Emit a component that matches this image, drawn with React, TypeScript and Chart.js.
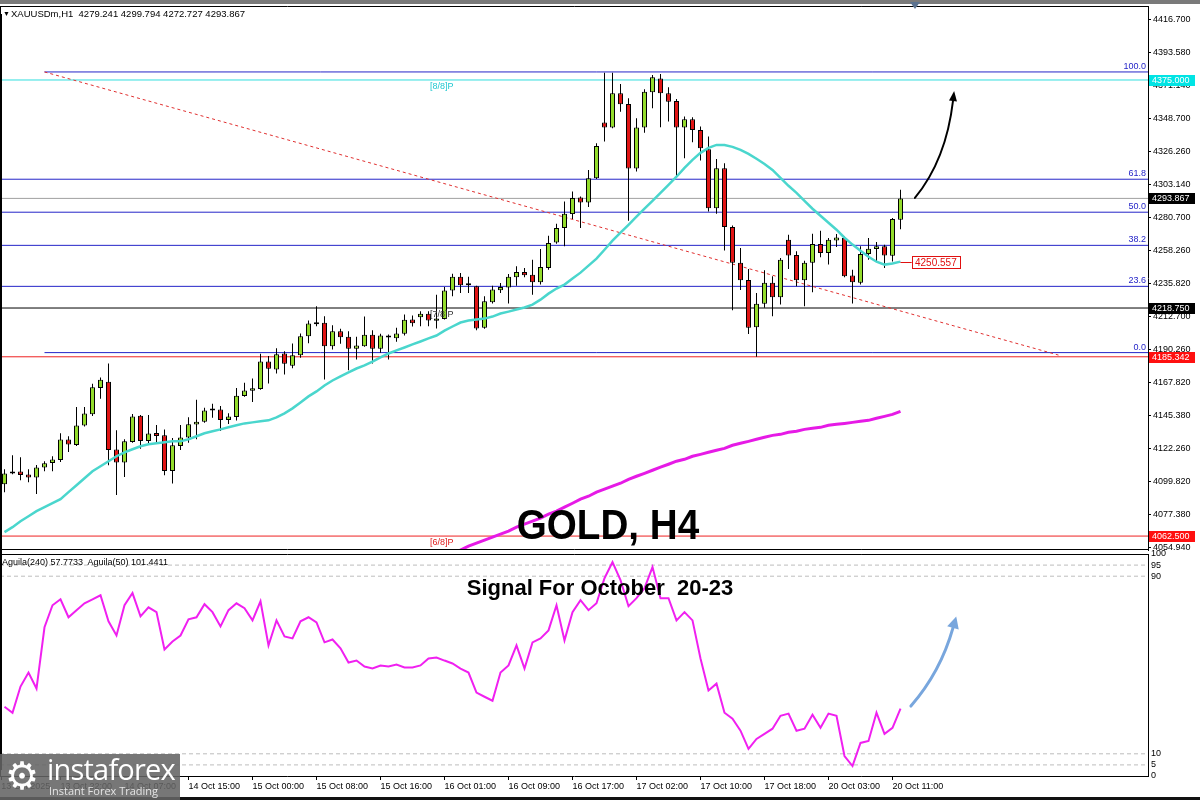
import React, { useEffect, useRef } from "react";
import { Chart, registerables } from "chart.js";

Chart.register(...registerables);
Chart.defaults.font.family = "'Liberation Sans', Arial, sans-serif";

// ---------------- data (H1 candles, XAUUSD) ----------------
const opens = [4098.0,4105.3,4106.7,4104.7,4102.6,4109.4,4112.6,4114.6,4128.6,4124.9,4138.2,4145.9,4163.9,4168.3,4121.8,4112.9,4126.9,4145.0,4127.6,4133.1,4131.5,4107.1,4124.2,4130.0,4138.9,4140.9,4148.6,4149.3,4142.0,4144.1,4158.4,4162.1,4163.2,4182.1,4176.7,4187.6,4179.2,4186.4,4199.4,4208.1,4208.6,4192.6,4202.9,4199.0,4190.8,4192.6,4200.4,4190.8,4199.9,4198.1,4201.1,4210.9,4212.4,4214.9,4210.0,4211.3,4230.7,4240.1,4234.3,4233.6,4205.2,4222.7,4230.9,4232.9,4239.8,4243.5,4241.6,4236.4,4246.2,4263.7,4273.6,4283.1,4294.5,4291.1,4307.7,4345.8,4342.4,4365.9,4358.6,4314.3,4342.4,4366.6,4376.1,4365.9,4360.6,4342.4,4348.1,4340.8,4327.6,4287.2,4314.6,4274.3,4249.7,4238.0,4205.6,4221.6,4236.0,4226.1,4265.6,4255.1,4237.7,4249.7,4262.6,4256.5,4265.1,4266.7,4241.0,4236.0,4255.8,4259.2,4261.0,4254.6,4279.241];
const highs = [4108.3,4117.9,4116.5,4108.3,4111.2,4113.8,4117.2,4132.9,4130.9,4150.9,4150.9,4166.9,4171.2,4180.8,4135.0,4128.8,4146.1,4145.5,4145.4,4138.6,4135.6,4129.7,4138.6,4143.9,4155.9,4150.5,4153.2,4151.6,4146.6,4163.9,4167.6,4170.5,4187.4,4185.8,4191.2,4189.2,4194.4,4201.3,4210.2,4219.9,4213.1,4207.0,4204.5,4202.9,4199.0,4212.9,4203.5,4201.1,4200.6,4205.2,4214.3,4213.6,4216.5,4216.5,4227.9,4233.2,4242.3,4242.8,4240.1,4234.1,4226.8,4234.1,4235.9,4242.1,4247.3,4246.2,4251.9,4259.2,4268.3,4276.5,4291.8,4298.6,4295.2,4313.4,4331.7,4380.0,4380.0,4372.3,4362.5,4348.8,4368.6,4378.4,4379.1,4370.0,4362.0,4349.9,4349.5,4343.1,4336.2,4320.8,4318.0,4275.3,4259.9,4245.5,4229.1,4244.6,4240.5,4253.1,4269.0,4257.6,4251.2,4269.7,4271.7,4266.7,4269.5,4267.8,4245.0,4261.0,4266.7,4264.0,4262.1,4280.4,4299.794];
const lows = [4092.5,4104.9,4100.8,4099.4,4091.4,4106.9,4106.9,4113.3,4120.1,4124.2,4137.5,4144.7,4156.6,4111.0,4090.7,4103.0,4126.5,4122.4,4125.9,4126.5,4104.2,4098.5,4121.5,4126.5,4128.8,4140.2,4143.6,4134.5,4139.3,4141.6,4157.9,4154.3,4162.8,4167.1,4173.9,4173.2,4177.5,4184.7,4194.7,4206.3,4169.8,4190.3,4194.2,4176.2,4183.5,4192.2,4180.8,4188.1,4183.5,4195.6,4199.9,4206.1,4206.3,4206.3,4204.7,4210.9,4226.8,4229.1,4229.1,4203.5,4204.5,4221.8,4229.1,4221.8,4234.1,4239.8,4227.9,4234.8,4245.0,4262.8,4261.0,4279.7,4273.6,4287.9,4307.1,4332.8,4342.0,4353.3,4278.6,4312.3,4338.9,4355.6,4342.6,4346.5,4308.9,4321.4,4332.4,4319.8,4284.9,4283.3,4258.2,4217.2,4231.1,4200.9,4185.3,4218.9,4213.1,4221.1,4245.5,4233.6,4219.9,4229.5,4253.5,4248.5,4260.6,4239.8,4221.8,4234.8,4251.9,4250.7,4246.2,4250.7,4272.727];
const closes = [4105.3,4106.7,4104.4,4102.6,4109.4,4112.4,4114.9,4128.6,4125.2,4138.2,4146.4,4164.4,4169.6,4121.5,4112.9,4127.4,4144.5,4127.6,4132.7,4131.1,4107.1,4124.7,4130.0,4139.1,4140.9,4148.6,4148.9,4142.0,4144.5,4158.7,4162.3,4163.7,4182.1,4177.1,4187.1,4180.6,4186.4,4199.4,4208.1,4207.6,4192.6,4202.9,4198.8,4190.8,4193.1,4200.4,4190.8,4199.9,4198.5,4201.3,4210.7,4208.3,4214.9,4210.2,4211.5,4230.7,4240.1,4234.3,4234.5,4204.7,4223.4,4231.4,4233.2,4240.1,4243.5,4241.2,4236.4,4246.9,4263.3,4273.6,4283.3,4294.1,4291.1,4307.7,4329.8,4342.4,4365.9,4358.4,4314.3,4342.4,4367.0,4376.8,4365.9,4360.1,4342.4,4348.1,4340.8,4328.3,4287.2,4314.6,4274.3,4249.7,4237.7,4205.2,4221.6,4236.0,4226.1,4251.9,4254.8,4237.7,4249.7,4262.6,4256.5,4265.6,4267.1,4240.5,4236.4,4255.8,4259.4,4261.0,4254.8,4279.7,4293.867];

// fast moving average (turquoise)
const fastMa = [4065.2,4068.6,4072.7,4076.1,4079.6,4082.3,4085.0,4087.8,4092.6,4097.3,4102.1,4106.9,4110.3,4113.8,4117.2,4119.9,4122.0,4124.0,4125.4,4126.1,4126.7,4127.4,4127.4,4128.8,4130.9,4132.9,4134.3,4135.6,4137.0,4138.4,4139.7,4140.4,4141.1,4141.8,4143.8,4146.6,4150.0,4154.1,4158.2,4161.6,4165.7,4169.1,4171.9,4174.6,4177.3,4179.4,4182.1,4184.9,4187.6,4189.7,4191.7,4193.8,4195.8,4197.9,4199.9,4203.3,4206.1,4208.8,4210.2,4210.9,4211.5,4212.9,4215.0,4216.3,4217.7,4219.1,4221.1,4224.5,4228.6,4232.1,4234.8,4238.9,4243.0,4247.8,4252.6,4258.7,4264.9,4270.4,4275.8,4281.3,4286.8,4292.2,4297.7,4303.2,4308.7,4314.8,4320.3,4325.1,4328.5,4330.5,4330.5,4329.2,4327.1,4324.4,4321.0,4317.5,4313.4,4308.0,4302.5,4297.7,4292.2,4286.8,4282.0,4277.2,4272.4,4266.9,4262.2,4258.0,4253.9,4250.5,4248.5,4249.2,4250.557];

// slow moving average (magenta), visible from candle 56
const slowMaStart = 56;
const slowMa = [4049.5,4052.9,4055.6,4057.7,4059.7,4061.8,4063.8,4065.9,4068.6,4070.7,4072.7,4074.8,4077.5,4079.6,4082.3,4085.0,4087.8,4089.8,4092.6,4094.6,4096.7,4098.7,4101.4,4103.5,4105.5,4107.6,4109.7,4111.7,4113.8,4115.1,4117.2,4118.5,4119.9,4121.3,4122.6,4124.7,4126.1,4127.4,4128.8,4130.2,4131.5,4132.2,4133.6,4134.3,4135.6,4136.3,4137.0,4138.4,4139.1,4139.7,4140.4,4141.1,4141.8,4143.2,4144.5,4145.9,4147.9];

// Aguila oscillator (lower panel)
const aguila = [31.2,28.5,40.3,46.6,39.4,67.0,76.9,79.6,71.5,74.7,77.8,79.6,81.4,69.7,63.3,76.9,82.4,71.9,76.0,73.8,57.0,60.6,63.3,70.6,71.5,77.4,73.8,67.4,74.7,77.8,75.6,70.1,78.7,58.8,70.1,62.9,62.0,69.7,71.5,69.2,60.2,61.5,57.5,51.1,52.0,49.3,48.4,49.8,49.3,50.2,48.9,48.9,49.8,52.9,53.4,52.0,50.7,48.4,46.6,37.6,35.7,33.9,46.6,49.8,58.8,48.4,60.2,62.0,65.6,76.9,61.1,73.8,79.2,74.7,77.8,89.1,96.4,88.2,76.5,80.1,84.6,94.1,80.1,80.1,70.1,73.8,70.1,52.9,38.5,41.6,28.5,25.8,20.4,12.2,16.7,19.0,21.3,27.1,28.1,20.4,21.3,27.6,21.7,28.1,27.1,9.0,4.5,14.9,15.8,28.5,19.0,21.7,30.3];
const aguilaLevels = [95, 90, 10, 5];
const aguilaTicks = [0, 5, 10, 90, 95, 100];

// price axis ticks
const priceTicks = [4416.7,4393.58,4371.14,4348.7,4326.26,4303.14,4280.7,4258.26,4235.82,4212.7,4190.26,4167.82,4145.38,4122.26,4099.82,4077.38,4054.94];

// Fibonacci retracement
const fibLevels = ["100.0", "61.8", "50.0", "38.2", "23.6", "0.0"];
const fibPrices = [4380.5, 4307.0, 4284.4, 4261.7, 4233.6, 4188.2];
const fibStartIndex = [5, null, null, null, null, 5];

// Murray math levels
const murrayLabels = ["[8/8]P", "[7/8]P", "[6/8]P"];
const murrayPrices = [4375.0, 4218.75, 4062.5];

// other levels
const bidPrice = 4293.867;
const supportPrice = 4185.342;
const trendFrom = { x: 5, y: 4380.5 };
const trendTo = { x: 131.75, y: 4186.5 };

// price tags on axis
const tagPrices = [4375.0, 4293.867, 4218.75, 4185.342, 4062.5];
const tagColors = ["#00e4e4", "#000000", "#000000", "#ff1010", "#ff1010"];

// time axis
const timeTickIndex = [-0.4, 7, 15, 23, 31, 39, 47, 55, 63, 71, 79, 87, 95, 103, 111];
const timeLabels = ["13 Oct 2025", "13 Oct 22:00", "14 Oct 07:00", "14 Oct 15:00", "15 Oct 00:00", "15 Oct 08:00", "15 Oct 16:00", "16 Oct 01:00", "16 Oct 09:00", "16 Oct 17:00", "17 Oct 02:00", "17 Oct 10:00", "17 Oct 18:00", "20 Oct 03:00", "20 Oct 11:00"];

// arrows (index, value)
const blackArrow = [[113.8, 4294.2], [117.7, 4320.2], [118.56, 4360.6]];
const blueArrow = [[113.3, 31.5], [117.0, 46.8], [118.56, 66.7]];

// ---------------- styling ----------------
const X_MIN = -0.5625;
const X_MAX = 142.9375;
const GREEN = "#93dc2c";
const RED = "#e01414";
const FIB_BLUE = "#2424c8";

function drawCurvedArrow(ctx: any, pts: any[], color: string, width: number, headLen: number, headW: number) {
  const [p0, c, p1] = pts;
  ctx.save();
  ctx.strokeStyle = color;
  ctx.fillStyle = color;
  ctx.lineWidth = width;
  ctx.lineCap = "round";
  ctx.beginPath();
  ctx.moveTo(p0.x, p0.y);
  ctx.quadraticCurveTo(c.x, c.y, p1.x, p1.y);
  ctx.stroke();
  const ang = Math.atan2(p1.y - c.y, p1.x - c.x);
  const tx = p1.x + Math.cos(ang) * headLen;
  const ty = p1.y + Math.sin(ang) * headLen;
  const px = -Math.sin(ang) * headW;
  const py = Math.cos(ang) * headW;
  ctx.beginPath();
  ctx.moveTo(tx, ty);
  ctx.lineTo(p1.x + px, p1.y + py);
  ctx.lineTo(p1.x - px, p1.y - py);
  ctx.closePath();
  ctx.fill();
  ctx.restore();
}

const mainOverlay = {
  id: "mainOverlay",
  afterDraw(chart: any) {
    const { ctx, chartArea: a } = chart;
    const x = chart.scales.x;
    const y = chart.scales.y;
    ctx.save();
    // frame
    ctx.strokeStyle = "#000";
    ctx.lineWidth = 1;
    ctx.beginPath();
    ctx.moveTo(a.left + 0.5, a.top + 0.5);
    ctx.lineTo(a.right, a.top + 0.5);
    ctx.moveTo(a.left + 0.5, a.bottom - 0.5);
    ctx.lineTo(a.right, a.bottom - 0.5);
    ctx.moveTo(a.left + 0.5, a.top);
    ctx.lineTo(a.left + 0.5, a.bottom);
    ctx.stroke();

    // fib labels
    ctx.font = "9px 'Liberation Sans', Arial";
    ctx.fillStyle = FIB_BLUE;
    ctx.textAlign = "right";
    ctx.textBaseline = "bottom";
    fibPrices.forEach((p, k) => {
      ctx.fillText(fibLevels[k], a.right - 2, y.getPixelForValue(p) - 1);
    });

    // murray labels
    const mColors = ["#22c8d0", "#333333", "#e02020"];
    ctx.textAlign = "left";
    ctx.textBaseline = "middle";
    murrayPrices.forEach((p, k) => {
      ctx.fillStyle = mColors[k];
      ctx.fillText(murrayLabels[k], x.getPixelForValue(53.2), y.getPixelForValue(p) + 6.5);
    });

    // MA value label
    const maEnd = fastMa[fastMa.length - 1];
    const mx0 = x.getPixelForValue(fastMa.length - 1);
    const mx1 = x.getPixelForValue(fastMa.length + 0.4);
    const my = Math.round(y.getPixelForValue(maEnd)) + 0.5;
    ctx.strokeStyle = "#e01010";
    ctx.beginPath();
    ctx.moveTo(mx0, my);
    ctx.lineTo(mx1, my);
    ctx.stroke();
    ctx.fillStyle = "#fff";
    ctx.fillRect(Math.round(mx1) + 0.5, my - 6, 48, 12);
    ctx.strokeRect(Math.round(mx1) + 0.5, my - 6, 48, 12);
    ctx.fillStyle = "#e01010";
    ctx.font = "10px 'Liberation Sans', Arial";
    ctx.fillText(maEnd.toFixed(3), Math.round(mx1) + 3, my + 0.5);

    // price tags on the axis
    ctx.font = "9px 'Liberation Sans', Arial";
    tagPrices.forEach((p, k) => {
      const py = Math.round(y.getPixelForValue(p));
      ctx.fillStyle = tagColors[k];
      ctx.fillRect(a.right + 1, py - 5, 46, 11);
      ctx.fillStyle = "#fff";
      ctx.fillText(p.toFixed(3), a.right + 4, py + 0.5);
    });

    // black forecast arrow
    const pts = blackArrow.map(([i, v]) => ({ x: x.getPixelForValue(i), y: y.getPixelForValue(v) }));
    drawCurvedArrow(ctx, pts, "#000", 2, 10, 4);
    ctx.restore();
  },
};

const indOverlay = {
  id: "indOverlay",
  afterDraw(chart: any) {
    const { ctx, chartArea: a } = chart;
    const x = chart.scales.x;
    const y = chart.scales.y;
    ctx.save();
    ctx.strokeStyle = "#000";
    ctx.lineWidth = 1;
    ctx.beginPath();
    ctx.moveTo(a.left + 0.5, a.top + 0.5);
    ctx.lineTo(a.right, a.top + 0.5);
    ctx.moveTo(a.left + 0.5, a.top);
    ctx.lineTo(a.left + 0.5, a.bottom);
    ctx.stroke();
    const pts = blueArrow.map(([i, v]) => ({ x: x.getPixelForValue(i), y: y.getPixelForValue(v) }));
    drawCurvedArrow(ctx, pts, "#78a6dd", 3, 12, 6);
    ctx.restore();
  },
};

function hLine(price: number, from: number | null, color: string, width = 1, dash: number[] = []) {
  return {
    type: "line",
    data: [{ x: from === null ? X_MIN : from, y: price }, { x: X_MAX, y: price }],
    borderColor: color,
    borderWidth: width,
    borderDash: dash,
    pointRadius: 0,
    order: 10,
  };
}

export default function App() {
  const mainRef = useRef<HTMLCanvasElement>(null);
  const indRef = useRef<HTMLCanvasElement>(null);

  useEffect(() => {
    const levelSets: any[] = [];
    fibPrices.forEach((p, k) => levelSets.push(hLine(p, fibStartIndex[k], FIB_BLUE)));
    levelSets.push(hLine(murrayPrices[0], null, "#30dede"));
    levelSets.push(hLine(murrayPrices[1], null, "#000000"));
    levelSets.push(hLine(murrayPrices[2], null, "#ee2020"));
    levelSets.push(hLine(bidPrice, null, "#a0a0a0"));
    levelSets.push(hLine(supportPrice, null, "#ee2020"));
    levelSets.push({
      type: "line",
      data: [trendFrom, trendTo],
      borderColor: "#e03030",
      borderWidth: 1,
      borderDash: [3, 3],
      pointRadius: 0,
      order: 9,
    });

    const bodyColors = opens.map((o, i) => (closes[i] >= o ? GREEN : RED));

    const main = new Chart(mainRef.current as HTMLCanvasElement, {
      type: "bar",
      data: {
        datasets: [
          ...levelSets,
          {
            type: "bar",
            data: highs.map((h, i) => ({ x: i, y: [lows[i], h] })),
            backgroundColor: "#000",
            borderWidth: 0,
            barThickness: 1,
            grouped: false,
            inflateAmount: 0,
            order: 5,
          },
          {
            type: "bar",
            data: opens.map((o, i) => ({ x: i, y: [o, closes[i]] })),
            backgroundColor: bodyColors,
            borderColor: "#000",
            borderWidth: 1,
            borderSkipped: false,
            barThickness: 5,
            minBarLength: 2,
            grouped: false,
            inflateAmount: 0,
            order: 4,
          },
          {
            type: "line",
            data: fastMa.map((v, i) => ({ x: i, y: v })),
            borderColor: "#4ad6cd",
            borderWidth: 2.5,
            pointRadius: 0,
            order: 2,
          },
          {
            type: "line",
            data: slowMa.map((v, k) => ({ x: k + slowMaStart, y: v })),
            borderColor: "#e61ae6",
            borderWidth: 3,
            pointRadius: 0,
            order: 2,
          },
        ] as any,
      },
      options: {
        responsive: false,
        animation: false,
        devicePixelRatio: 1,
        events: [],
        layout: { padding: { top: 6, bottom: 250, left: 0, right: 0 } },
        plugins: { legend: { display: false }, tooltip: { enabled: false } },
        scales: {
          x: { type: "linear", min: X_MIN, max: X_MAX, display: false, offset: false },
          y: {
            type: "linear",
            position: "right",
            min: 4052.95,
            max: 4425.7,
            afterBuildTicks: (s: any) => {
              s.ticks = priceTicks.map((v) => ({ value: v }));
            },
            afterFit: (s: any) => {
              s.width = 52;
              s.paddingTop = 0;
              s.paddingBottom = 0;
            },
            ticks: {
              autoSkip: false,
              callback: (v: any) => Number(v).toFixed(3),
              font: { size: 9 },
              color: "#000",
              padding: 2,
            },
            grid: { drawOnChartArea: false, drawTicks: true, tickLength: 3, color: "#000" },
            border: { display: true, color: "#000" },
          },
        },
      } as any,
      plugins: [mainOverlay],
    });

    const ind = new Chart(indRef.current as HTMLCanvasElement, {
      type: "line",
      data: {
        datasets: [
          ...aguilaLevels.map((lv) => ({
            data: [{ x: X_MIN, y: lv }, { x: X_MAX, y: lv }],
            borderColor: "#bdbdbd",
            borderWidth: 1,
            borderDash: [4, 3],
            pointRadius: 0,
            order: 5,
          })),
          {
            data: aguila.map((v, i) => ({ x: i, y: v })),
            borderColor: "#f020f0",
            borderWidth: 2,
            pointRadius: 0,
            order: 1,
          },
        ] as any,
      },
      options: {
        responsive: false,
        animation: false,
        devicePixelRatio: 1,
        events: [],
        layout: { padding: { top: 554, bottom: 0, left: 0, right: 0 } },
        plugins: { legend: { display: false }, tooltip: { enabled: false } },
        scales: {
          x: {
            type: "linear",
            min: X_MIN,
            max: X_MAX,
            offset: false,
            afterBuildTicks: (s: any) => {
              s.ticks = timeTickIndex.map((v) => ({ value: v }));
            },
            afterFit: (s: any) => {
              s.height = 24;
              s.paddingLeft = 0;
              s.paddingRight = 0;
            },
            ticks: {
              autoSkip: false,
              maxRotation: 0,
              minRotation: 0,
              align: "start",
              padding: 1,
              color: "#000",
              font: { size: 9 },
              callback: (_v: any, idx: number) => timeLabels[idx],
            },
            grid: { drawOnChartArea: false, drawTicks: true, tickLength: 4, color: "#000" },
            border: { display: true, color: "#000" },
          },
          y: {
            type: "linear",
            position: "right",
            min: 0,
            max: 100,
            afterBuildTicks: (s: any) => {
              s.ticks = aguilaTicks.map((v) => ({ value: v }));
            },
            afterFit: (s: any) => {
              s.width = 52;
              s.paddingTop = 0;
              s.paddingBottom = 0;
            },
            ticks: { autoSkip: false, color: "#000", font: { size: 9 }, padding: 3 },
            grid: { drawOnChartArea: false, drawTicks: false },
            border: { display: true, color: "#000" },
          },
        },
      } as any,
      plugins: [indOverlay],
    });

    return () => {
      main.destroy();
      ind.destroy();
    };
  }, []);

  const small: React.CSSProperties = {
    position: "absolute",
    fontFamily: "'Liberation Sans', Arial, sans-serif",
    fontSize: 9,
    lineHeight: "10px",
    color: "#000",
    whiteSpace: "pre",
  };

  return (
    <div style={{ position: "absolute", left: 0, top: 0, width: 1200, height: 800, background: "#fff", overflow: "hidden" }}>
      <canvas ref={mainRef} width={1200} height={800} style={{ position: "absolute", left: 0, top: 0, width: 1200, height: 800 }} />
      <canvas ref={indRef} width={1200} height={800} style={{ position: "absolute", left: 0, top: 0, width: 1200, height: 800 }} />

      {/* window frame bits */}
      <div style={{ position: "absolute", left: 0, top: 0, width: 1200, height: 4, background: "#7a7a7a" }} />
      <div style={{ position: "absolute", left: 0, top: 14, width: 2, height: 756, background: "#000" }} />
      <div style={{ position: "absolute", left: 0, top: 797, width: 1200, height: 3, background: "#111" }} />
      <div style={{ position: "absolute", left: 910, top: 2, width: 0, height: 0, borderLeft: "5px solid transparent", borderRight: "5px solid transparent", borderTop: "7px solid #5b7290" }} />

      {/* headers */}
      <div style={{ ...small, left: 3, top: 9, fontSize: 7 }}>▼</div>
      <div style={{ ...small, left: 11, top: 9, fontSize: 9.5 }}>{"XAUUSDm,H1  4279.241 4299.794 4272.727 4293.867"}</div>
      <div style={{ ...small, left: 2, top: 557 }}>{"Aguila(240) 57.7733  Aguila(50) 101.4411"}</div>

      {/* titles */}
      <div
        style={{
          position: "absolute",
          left: 408,
          width: 400,
          top: 504,
          textAlign: "center",
          fontFamily: "'Liberation Sans', Arial, sans-serif",
          fontWeight: 700,
          fontSize: 42,
          lineHeight: "42px",
          color: "#000",
          transform: "scaleX(0.92)",
          whiteSpace: "pre",
        }}
      >
        GOLD, H4
      </div>
      <div
        style={{
          position: "absolute",
          left: 300,
          width: 600,
          top: 577,
          textAlign: "center",
          fontFamily: "'Liberation Sans', Arial, sans-serif",
          fontWeight: 700,
          fontSize: 22,
          lineHeight: "22px",
          color: "#000",
          whiteSpace: "pre",
        }}
      >
        {"Signal For October  20-23"}
      </div>

      {/* logo */}
      <div style={{ position: "absolute", left: 0, top: 754, width: 180, height: 46, background: "rgba(100,100,100,0.88)" }}>
        <div style={{ position: "absolute", left: 5, top: 2, fontSize: 38, lineHeight: "40px", color: "#fff", fontFamily: "'DejaVu Sans', sans-serif" }}>⚙</div>
        <div style={{ position: "absolute", left: 47, top: -1, fontSize: 29, lineHeight: "32px", color: "#fff", fontFamily: "'Open Sans', sans-serif", letterSpacing: -0.8 }}>instaforex</div>
        <div style={{ position: "absolute", left: 49, top: 31, fontSize: 11, lineHeight: "12px", color: "#e4e4e4", fontFamily: "'Open Sans', sans-serif" }}>Instant Forex Trading</div>
      </div>
    </div>
  );
}
